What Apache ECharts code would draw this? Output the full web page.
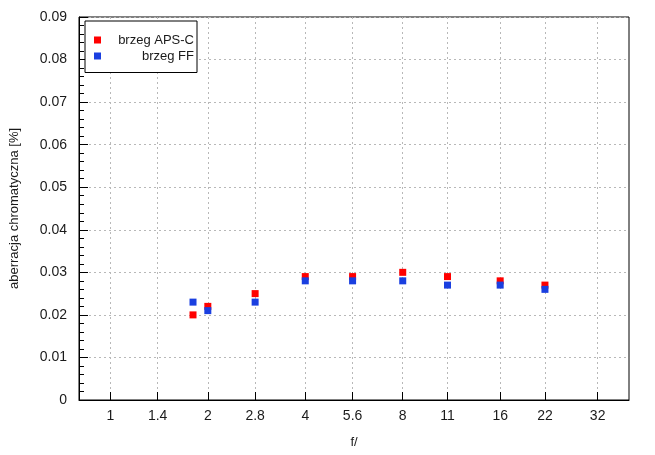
<!DOCTYPE html>
<html>
<head>
<meta charset="utf-8">
<script src="https://cdn.jsdelivr.net/npm/echarts@6/dist/echarts.min.js"></script>
<style>html,body{margin:0;padding:0;background:#fff}#c{width:655px;height:455px}</style>
</head>
<body>
<div id="c"></div>
<script>
const fStops = [1.8, 2, 2.8, 4, 5.6, 8, 11, 16, 22];
const apsC = [0.020, 0.022, 0.025, 0.029, 0.029, 0.030, 0.029, 0.028, 0.027];
const ff = [0.023, 0.021, 0.023, 0.028, 0.028, 0.028, 0.027, 0.027, 0.026];
const xTicks = [1, 1.4, 2, 2.8, 4, 5.6, 8, 11, 16, 22, 32];
const xTickLabels = ['1', '1.4', '2', '2.8', '4', '5.6', '8', '11', '16', '22', '32'];

const font = 'Liberation Sans, Arial, sans-serif';
const txt = '#1a1a1a';
const gridLine = { show: true, lineStyle: { color: '#b8b8b8', type: [2, 3], width: 1 } };

const chart = echarts.init(document.getElementById('c'), null, { renderer: 'canvas' });
chart.setOption({
  animation: false,
  backgroundColor: '#fff',
  grid: { left: 77, right: 26, top: 17, bottom: 55, show: true, borderColor: '#000', borderWidth: 1, backgroundColor: 'transparent' },
  legend: {
    left: 85, top: 21, orient: 'vertical',
    backgroundColor: '#fff', borderColor: '#000', borderWidth: 1, borderRadius: 0,
    padding: [12.5, 3, 10, 9], itemGap: 3, itemWidth: 7, itemHeight: 7,
    icon: 'rect',
    formatter: n => '{a|' + n + '}',
    textStyle: { fontFamily: font, fontSize: 13, color: txt,
      rich: { a: { width: 88, align: 'right', fontSize: 13, fontFamily: font, color: txt } } },
    data: ['brzeg APS-C', 'brzeg FF']
  },
  xAxis: {
    type: 'log', logBase: 2, min: 0.8, max: 40,
    name: 'f/', nameLocation: 'middle', nameGap: 36,
    nameTextStyle: { fontFamily: font, fontSize: 13, color: txt },
    axisLine: { show: true, lineStyle: { color: '#000', width: 1 } },
    axisTick: { show: true, inside: true, length: 8, customValues: xTicks, lineStyle: { color: '#000' } },
    axisLabel: { customValues: xTicks, fontFamily: font, fontSize: 14, color: txt, margin: 9,
      formatter: v => { const i = xTicks.findIndex(t => Math.abs(t - v) < 1e-6); return i >= 0 ? xTickLabels[i] : ''; } },
    splitLine: gridLine,
    minorTick: { show: false }
  },
  yAxis: {
    type: 'value', min: 0, max: 0.09, interval: 0.01,
    name: 'aberracja chromatyczna [%]', nameLocation: 'middle', nameGap: 58,
    nameTextStyle: { fontFamily: font, fontSize: 13, color: txt },
    axisLine: { show: true, lineStyle: { color: '#000', width: 1 } },
    axisTick: { show: true, inside: true, length: 9, lineStyle: { color: '#000' } },
    minorTick: { show: true, splitNumber: 5, length: 5, lineStyle: { color: '#000' } },
    axisLabel: { fontFamily: font, fontSize: 14, color: txt, margin: 12,
      formatter: v => (Math.round(v * 100) / 100).toString() },
    splitLine: gridLine
  },
  series: [
    { name: 'brzeg APS-C', type: 'scatter', symbol: 'rect', symbolSize: 7,
      itemStyle: { color: '#ff0000', opacity: 1 }, data: fStops.map((f, i) => [f, apsC[i]]) },
    { name: 'brzeg FF', type: 'scatter', symbol: 'rect', symbolSize: 7,
      itemStyle: { color: '#1a3fe0', opacity: 1 }, data: fStops.map((f, i) => [f, ff[i]]) }
  ]
});
</script>
</body>
</html>
